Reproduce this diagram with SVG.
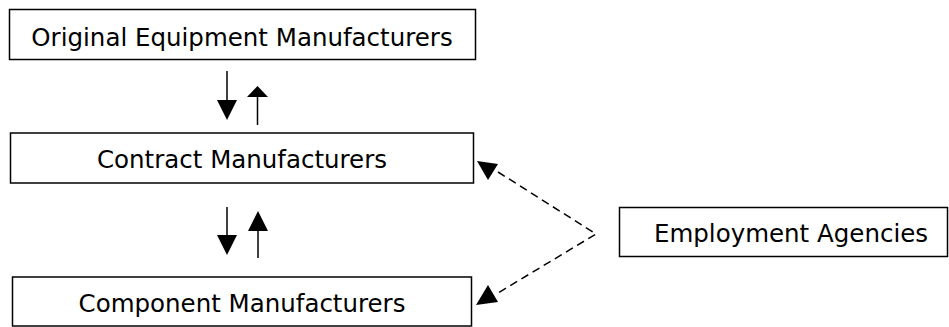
<svg xmlns="http://www.w3.org/2000/svg" width="949" height="327" viewBox="0 0 949 327">
<style>
.box{fill:#fff;stroke:#000;stroke-width:1.5}
.lbl{font-family:"DejaVu Sans",Verdana,sans-serif;font-size:24.5px;fill:#000;text-anchor:middle}
.ln{stroke:#000;stroke-width:1.5;fill:none}
.dash{stroke:#000;stroke-width:1.5;fill:none;stroke-dasharray:8 5}
.head{fill:#000}
</style>
<rect width="949" height="327" fill="#fff"/>
<g id="oem"><rect class="box" x="9.5" y="9.5" width="466" height="50"/><text class="lbl" x="242" y="46">Original Equipment Manufacturers</text></g>
<g id="contract"><rect class="box" x="10.5" y="133" width="463" height="50"/><text class="lbl" x="242" y="168">Contract Manufacturers</text></g>
<g id="component"><rect class="box" x="12.5" y="277" width="459" height="49"/><text class="lbl" x="242" y="312">Component Manufacturers</text></g>
<g id="agencies"><rect class="box" x="619.5" y="207.5" width="328" height="49"/><text class="lbl" x="791" y="242">Employment Agencies</text></g>
<g id="connectors">
<line class="ln" x1="227" y1="71" x2="227" y2="102"/><polygon class="head" points="217,100 237,100 227,120"/>
<line class="ln" x1="257.5" y1="125" x2="257.5" y2="95"/><polygon class="head" points="247,97 268,97 257.5,86"/>
<line class="ln" x1="227" y1="207" x2="227" y2="237"/><polygon class="head" points="217,235 237,235 227,255"/>
<line class="ln" x1="258" y1="258" x2="258" y2="229"/><polygon class="head" points="248,231 268,231 258,211"/>
<polyline class="dash" points="498,172 596,234 498,293"/>
<polygon class="head" points="477,161 498,164 488,180"/>
<polygon class="head" points="476,305 498,302 488,285"/>
</g>
</svg>
